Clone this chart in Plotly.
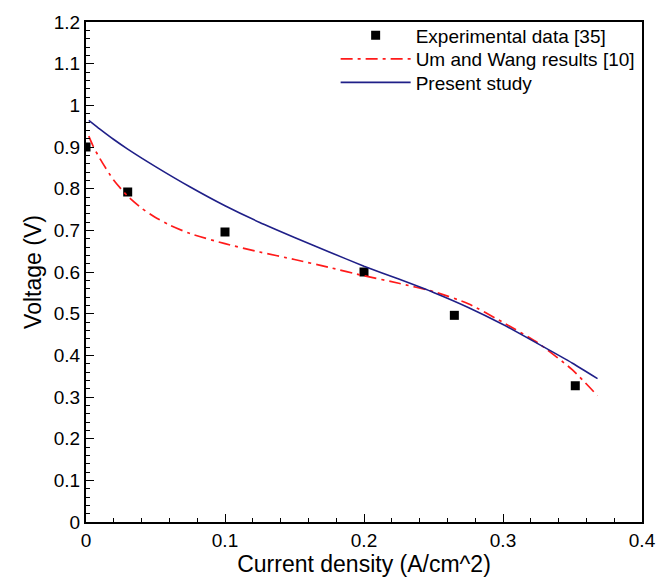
import plotly.graph_objects as go

# Experimental data [35]
exp_x = [0.0, 0.03, 0.1, 0.2, 0.265, 0.352]
exp_y = [0.90, 0.792, 0.696, 0.600, 0.496, 0.327]

# Um and Wang results [10]
um_x = [0.002, 0.005, 0.01, 0.02, 0.03, 0.04, 0.05, 0.06, 0.075, 0.1, 0.125, 0.15, 0.175,
        0.2, 0.225, 0.25, 0.275, 0.3, 0.325, 0.35, 0.368]
um_y = [0.926, 0.903, 0.872, 0.820, 0.782, 0.753, 0.731, 0.713, 0.692, 0.668, 0.648, 0.630, 0.611,
        0.591, 0.573, 0.553, 0.524, 0.479, 0.430, 0.365, 0.303]

# Present study
ps_x = [0.002, 0.01, 0.02, 0.03, 0.05, 0.075, 0.1, 0.125, 0.15, 0.175, 0.2, 0.225,
        0.25, 0.275, 0.3, 0.325, 0.35, 0.368]
ps_y = [0.964, 0.943, 0.918, 0.895, 0.853, 0.804, 0.759, 0.719, 0.683, 0.648, 0.614, 0.583,
        0.551, 0.515, 0.474, 0.428, 0.381, 0.344]

font = "Liberation Sans, Arial, sans-serif"

fig = go.Figure()
fig.add_trace(go.Scatter(x=exp_x, y=exp_y, mode="markers", name="Experimental data [35]",
                         legend="legend",
                         marker=dict(symbol="square", size=9, color="black")))
fig.add_trace(go.Scatter(x=um_x, y=um_y, mode="lines", name="Um and Wang results [10]",
                         legend="legend2",
                         line=dict(color="#ff1a1a", width=1.7, dash="12px,5px,3px,5px",
                                   shape="spline", smoothing=0.6)))
fig.add_trace(go.Scatter(x=ps_x, y=ps_y, mode="lines", name="Present study",
                         legend="legend3",
                         line=dict(color="#1f1f88", width=1.6, shape="spline", smoothing=0.5)))

axis_common = dict(showgrid=False, zeroline=False, showline=True, linecolor="black",
                   linewidth=2, mirror=True, ticks="inside", ticklen=8, tickwidth=1.2,
                   tickcolor="black", tickfont=dict(family=font, size=19, color="black"))

fig.update_xaxes(range=[0, 0.4], dtick=0.1, tick0=0,
                 minor=dict(dtick=0.02, ticks="inside", ticklen=4, tickcolor="black", tickwidth=1),
                 title=dict(text="Current density (A/cm^2)", font=dict(family=font, size=23, color="black"),
                            standoff=2),
                 **axis_common)
fig.update_yaxes(range=[0, 1.2], dtick=0.1, tick0=0,
                 minor=dict(dtick=0.02, ticks="inside", ticklen=4, tickcolor="black", tickwidth=1),
                 title=dict(text="Voltage (V)", font=dict(family=font, size=23, color="black"),
                            standoff=6),
                 **axis_common)

leg = dict(x=0.449, xanchor="left", yanchor="middle", bgcolor="rgba(0,0,0,0)",
           itemwidth=70, font=dict(family=font, size=19, color="black"))

fig.update_layout(
    width=668, height=581,
    margin=dict(l=86, r=24, t=18, b=54),
    plot_bgcolor="white", paper_bgcolor="white",
    showlegend=True,
    legend=dict(leg, y=0.973),
    legend2=dict(leg, y=0.926),
    legend3=dict(leg, y=0.879),
)

fig.write_html("out.html")
